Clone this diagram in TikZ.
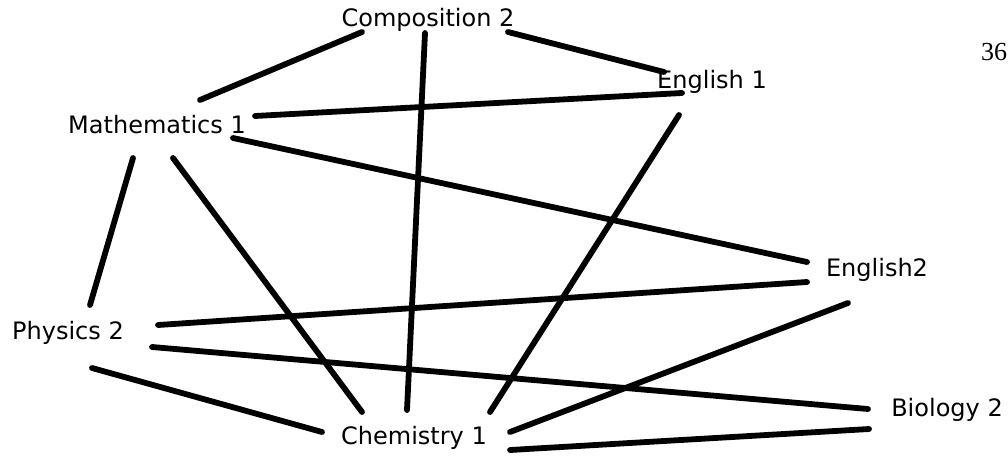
\documentclass[tikz,border=0pt]{standalone}
\usepackage{fontspec}
\setmainfont{DejaVu Sans}
\newfontfamily\pagenumfont{Liberation Serif}
\usetikzlibrary{calc}
\begin{document}
\begin{tikzpicture}[x=1pt,y=-1pt,
  lbl/.style={inner sep=0pt,font=\fontsize{24}{28}\selectfont},
  edge/.style={line width=5.8pt,line cap=round}]
\useasboundingbox (0,0) rectangle (1008,458);
\clip (0,0) rectangle (1008,458);
\node[lbl] (comp) at (428,20) {Composition 2};
\node[lbl] (eng1) at (712,82) {English 1};
\node[lbl] (math) at (157,125) {Mathematics 1};
\node[lbl] (eng2) at (877,270) {English2};
\node[lbl] (phys) at (68,333) {Physics 2};
\node[lbl] (chem) at (414,438) {Chemistry 1};
\node[lbl] (bio) at (947,410) {Biology 2};
\node[inner sep=0pt,anchor=west,font=\pagenumfont\fontsize{26}{30}\selectfont] (page) at (981,52) {36};
% connectors
\draw[edge] ($(comp)+(-66,12)$) -- ($(math)+(43,-25)$);
\draw[edge] ($(comp)+(-3,13)$) -- ($(chem)+(-7,-28)$);
\draw[edge] ($(comp)+(80,12)$) -- ($(eng1)+(-48,-10)$);
\draw[edge] ($(math)+(98,-9)$) -- ($(eng1)+(-30,11)$);
\draw[edge] ($(math)+(76,13)$) -- ($(eng2)+(-70,-8)$);
\draw[edge] ($(math)+(-24,33)$) -- ($(phys)+(22,-28)$);
\draw[edge] ($(math)+(16,33)$) -- ($(chem)+(-52,-26)$);
\draw[edge] ($(eng1)+(-33,33)$) -- ($(chem)+(76,-26)$);
\draw[edge] ($(eng2)+(-70,12)$) -- ($(phys)+(90,-8)$);
\draw[edge] ($(eng2)+(-29,33)$) -- ($(chem)+(96,-6)$);
\draw[edge] ($(phys)+(84,14)$) -- ($(bio)+(-79,-1)$);
\draw[edge] ($(phys)+(24,35)$) -- ($(chem)+(-92,-6)$);
\draw[edge] ($(chem)+(96,12)$) -- ($(bio)+(-78,19)$);
\end{tikzpicture}
\end{document}
